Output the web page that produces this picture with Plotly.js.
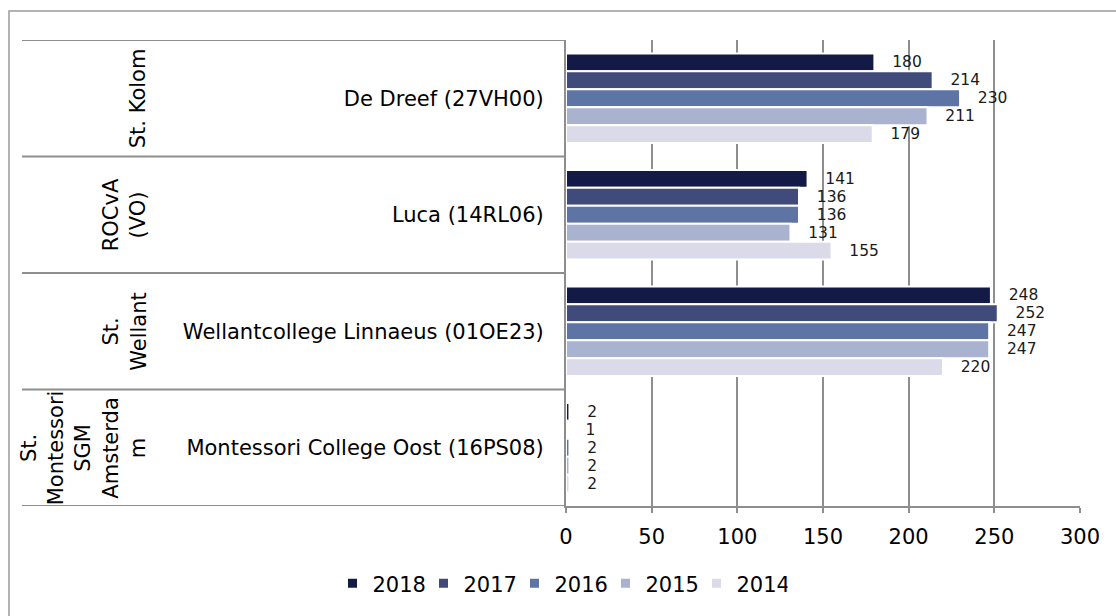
<!DOCTYPE html>
<html>
<head>
<meta charset="utf-8">
<script src="https://cdn.plot.ly/plotly-3.0.1.min.js"></script>
<style>html,body{margin:0;padding:0;background:#fff;overflow:hidden}</style>
</head>
<body>
<div id="chart" style="width:1116px;height:616px"></div>
<script>
// ---- data ----
const schools = ['De Dreef (27VH00)', 'Luca (14RL06)', 'Wellantcollege Linnaeus (01OE23)', 'Montessori College Oost (16PS08)'];
const boards = ['St. Kolom', 'ROCvA<br>(VO)', 'St.<br>Wellant', 'St.<br>Montessori<br>SGM<br>Amsterda<br>m'];
const years = ['2018', '2017', '2016', '2015', '2014'];
const v2018 = [180, 141, 248, 2];
const v2017 = [214, 136, 252, 1];
const v2016 = [230, 136, 247, 2];
const v2015 = [211, 131, 247, 2];
const v2014 = [179, 155, 220, 2];
const xTicks = [0, 50, 100, 150, 200, 250, 300];

// ---- styling ----
const series = [v2018, v2017, v2016, v2015, v2014];
const colors = ['#131a46', '#404a7b', '#5d74a5', '#a9b3cf', '#dadae8'];
const FONT = 'DejaVu Sans, Verdana, sans-serif';
const GRID = '#8e8e8e';

const W = 1116, H = 616;
const L = 566, R = 1080, T = 40, B = 508;
const px2x = p => (p - L) / (R - L);
const py2y = p => (B - p) / (B - T);

const NB = '\u00a0';
const traces = [];
series.forEach((vals, i) => {
  traces.push({
    type: 'bar', orientation: 'h',
    name: years[i], y: schools, x: vals,
    marker: {color: colors[i], line: {color: '#ffffff', width: 2}},
    text: vals.map(v => NB + NB + NB + v),
    textposition: 'outside', constraintext: 'none', cliponaxis: false,
    textfont: {family: FONT, size: 15.5, color: '#1a1a1a'},
    showlegend: false, hoverinfo: 'x+name'
  });
});
years.forEach((yr, i) => {
  traces.push({
    type: 'scatter', mode: 'markers', name: yr,
    x: [null], y: [null],
    marker: {symbol: 'square', size: 9, color: colors[i]},
    showlegend: true, hoverinfo: 'skip'
  });
});

const shapes = [];
// frame
shapes.push({type: 'rect', xref: 'paper', yref: 'paper',
  x0: px2x(9), x1: px2x(W + 20), y0: py2y(H + 20), y1: py2y(11),
  line: {color: '#9a9a9a', width: 1.5}, fillcolor: 'rgba(0,0,0,0)'});
// category separators
for (let i = 0; i <= schools.length; i++) {
  shapes.push({type: 'line', xref: 'paper', yref: 'y',
    x0: px2x(22), x1: 0, y0: i - 0.5, y1: i - 0.5,
    line: {color: GRID, width: 2}});
}

const annotations = boards.map((b, i) => ({
  text: b, xref: 'paper', yref: 'y', x: px2x(152), y: i,
  xanchor: 'right', yanchor: 'middle', textangle: -90,
  showarrow: false, align: 'center',
  font: {family: FONT, size: 21, color: '#000'}
}));

const layout = {
  width: W, height: H,
  margin: {l: L, r: W - R, t: T, b: H - B, pad: 0},
  paper_bgcolor: '#fff', plot_bgcolor: '#fff',
  font: {family: FONT, size: 21, color: '#000'},
  barmode: 'group', bargap: 0.23, bargroupgap: 0,
  xaxis: {
    range: [0, 300], tickvals: xTicks, ticktext: xTicks.map(String),
    showgrid: true, gridcolor: GRID, gridwidth: 2,
    zeroline: false, showline: true, linecolor: GRID, linewidth: 2,
    ticks: 'outside', ticklen: 5, tickwidth: 2, tickcolor: GRID,
    ticklabelstandoff: 6,
    tickfont: {family: FONT, size: 21, color: '#000'}
  },
  yaxis: {
    type: 'category', categoryorder: 'array', categoryarray: schools,
    range: [schools.length - 0.5, -0.5],
    showgrid: false, zeroline: false, showline: true, linecolor: GRID, linewidth: 2,
    ticks: '', ticklabelstandoff: 16,
    tickfont: {family: FONT, size: 21, color: '#000'}
  },
  legend: {
    orientation: 'h', x: px2x(560), xanchor: 'center', y: py2y(586), yanchor: 'middle',
    font: {family: FONT, size: 21, color: '#000'}, itemwidth: 30,
    entrywidth: 46, entrywidthmode: 'pixels',
    bgcolor: 'rgba(0,0,0,0)'
  },
  shapes: shapes,
  annotations: annotations
};

Plotly.newPlot('chart', traces, layout, {displayModeBar: false, staticPlot: true});
</script>
</body>
</html>
